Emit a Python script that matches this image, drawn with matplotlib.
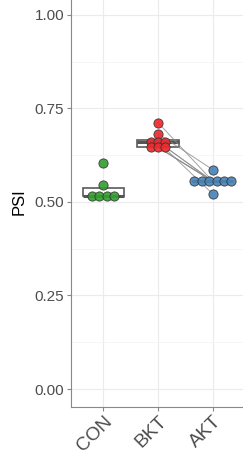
import matplotlib.pyplot as plt
import numpy as np

plt.rc('font', family=['Liberation Sans', 'DejaVu Sans'])

groups = ['CON', 'BKT', 'AKT']
con = [0.605, 0.545, 0.516, 0.516, 0.516, 0.516]
bkt = [0.712, 0.682, 0.661, 0.661, 0.661, 0.646, 0.646, 0.646]
akt = [0.586, 0.555, 0.555, 0.555, 0.555, 0.555, 0.555, 0.521]
# pairs BKT -> AKT (same sample)
pair_bkt = [0.712, 0.682, 0.661, 0.661, 0.661, 0.646, 0.646, 0.646]
pair_akt = [0.555, 0.586, 0.555, 0.555, 0.521, 0.555, 0.555, 0.555]
colors = ['#34a02f', '#ee2a2e', '#4a84b8']

fig = plt.figure(figsize=(2.43, 4.57), dpi=100)
ax = fig.add_axes([71.3/243, 50/457, 171.7/243, 411/457])

data = [con, bkt, akt]
bp = ax.boxplot(data, positions=[1, 2, 3], widths=0.75, patch_artist=True,
                whis=0, showfliers=False, showcaps=False, manage_ticks=False,
                boxprops=dict(facecolor='white', edgecolor='#5a5a5a', lw=1.2),
                medianprops=dict(color='#555555', lw=2.2),
                whiskerprops=dict(lw=0), zorder=2)

for b, a in zip(pair_bkt, pair_akt):
    ax.plot([2, 3], [b, a], color='#8c8c8c', lw=0.7, alpha=0.8, zorder=3)

dot_w = 0.135
for i, vals in enumerate(data):
    vals = np.array(vals)
    xs, ys = [], []
    for v in sorted(set(vals), reverse=True):
        n = int((vals == v).sum())
        off = (np.arange(n) - (n - 1) / 2) * dot_w
        xs.extend(i + 1 + off)
        ys.extend([v] * n)
    ax.scatter(xs, ys, s=44, color=colors[i], edgecolor='#333333',
               lw=0.6, alpha=0.92, zorder=4)

ax.set_xlim(0.42, 3.55)
ax.set_ylim(-0.048, 1.05)

ax.set_yticks([0, 0.25, 0.5, 0.75, 1.0], ['0.00', '0.25', '0.50', '0.75', '1.00'])
ax.set_yticks([0.125, 0.375, 0.625, 0.875], minor=True)
ax.set_xticks([1, 2, 3], groups, rotation=45, ha='right', va='top',
              rotation_mode='anchor')
ax.grid(True, which='major', color='#ebebeb', lw=0.8)
ax.grid(True, which='minor', axis='y', color='#f3f3f3', lw=0.5)
ax.set_axisbelow(True)

for s in ['top', 'right']:
    ax.spines[s].set_visible(False)
for s in ['left', 'bottom']:
    ax.spines[s].set_color('#888888')
    ax.spines[s].set_linewidth(0.8)

ax.tick_params(axis='y', labelsize=11, labelcolor='#4d4d4d', color='#888888',
               length=3, pad=2)
ax.tick_params(axis='x', labelsize=13.7, labelcolor='#4d4d4d', color='#888888',
               length=3, pad=1)
ax.tick_params(which='minor', length=0)
ax.set_ylabel('PSI', fontsize=12, labelpad=6)

fig.savefig('out.png', dpi=100)
